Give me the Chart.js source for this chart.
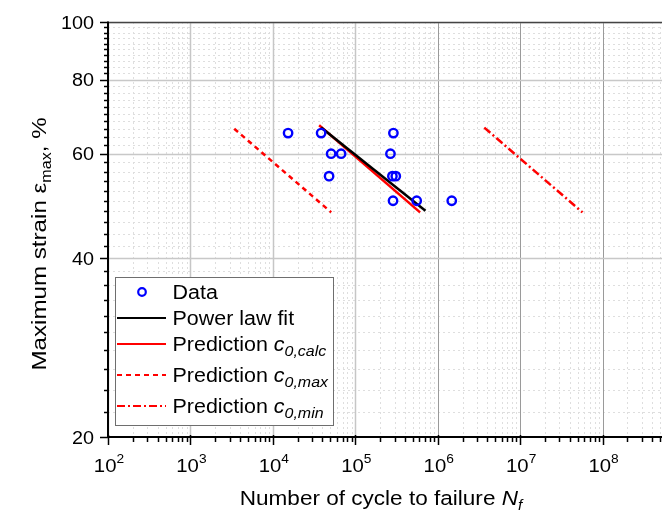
<!DOCTYPE html>
<html>
<head>
<meta charset="utf-8">
<script src="https://cdn.jsdelivr.net/npm/chart.js@4.4.1/dist/chart.umd.min.js"></script>
<style>
  html, body { margin: 0; padding: 0; background: #fff; overflow: hidden; }
  canvas { display: block; }
</style>
</head>
<body>
<canvas id="fatigueChart" width="700" height="513"></canvas>
<script>
// test results: cycles to failure vs. max strain (%)
const cyclesData = [15300, 38500, 290000, 50900, 67300, 267000, 48100, 282000, 310000, 287000, 556000, 1480000];
const strainData = [65, 65, 65, 60, 60, 60, 55, 55, 55, 50, 50, 50];

// straight lines in log-log, start and end point
const fitCycles = [38500, 710000];
const fitStrain = [66.4, 48.1];
const calcCycles = [36400, 611000];
const calcStrain = [67.0, 47.8];
const maxCycles = [3400, 51000];
const maxStrain = [66.1, 47.8];
const minCycles = [3670000, 57000000];
const minStrain = [66.4, 47.8];

const xExponents = [2, 3, 4, 5, 6, 7, 8];
const yTickValues = [20, 40, 60, 80, 100];

const STRETCH = 1.1;

function toPoints(xs, ys) {
    return xs.map((x, i) => ({ x: x, y: ys[i] }));
}

function fontStr(size, italic) {
    return (italic ? 'italic ' : '') + size + 'px "Liberation Sans", Arial, sans-serif';
}

// draws a run of text pieces (sizes, italics, sub/superscripts) side by side
function drawParts(ctx, parts, x, y, align, stretch) {
    const s = stretch || STRETCH;
    let w = 0;
    parts.forEach(p => { ctx.font = fontStr(p.size, p.italic); w += ctx.measureText(p.text).width; });
    w *= s;
    const start = align === 'center' ? x - w / 2 : (align === 'right' ? x - w : x);
    ctx.save();
    ctx.translate(start, y);
    ctx.scale(s, 1);
    ctx.textBaseline = 'alphabetic';
    ctx.textAlign = 'left';
    let cx = 0;
    parts.forEach(p => {
        ctx.font = fontStr(p.size, p.italic);
        ctx.fillText(p.text, cx, p.dy || 0);
        cx += ctx.measureText(p.text).width;
    });
    ctx.restore();
    return w;
}

function hLine(ctx, x1, x2, y) {
    ctx.beginPath(); ctx.moveTo(x1, y); ctx.lineTo(x2, y); ctx.stroke();
}
function vLine(ctx, x, y1, y2) {
    ctx.beginPath(); ctx.moveTo(x, y1); ctx.lineTo(x, y2); ctx.stroke();
}

const gridPlugin = {
    id: 'logGrid',
    beforeDatasetsDraw(chart) {
        const { ctx, chartArea: a, scales: { x, y } } = chart;
        ctx.save();
        ctx.beginPath();
        ctx.rect(a.left, a.top, a.right - a.left, a.bottom - a.top);
        ctx.clip();

        // minor grid, dashed
        ctx.setLineDash([2, 3]);
        ctx.strokeStyle = '#dedede';
        ctx.lineWidth = 1;
        xExponents.concat([9]).forEach(e => {
            for (let m = 2; m <= 9; m++) {
                const px = Math.round(x.getPixelForValue(m * Math.pow(10, e))) + 0.5;
                vLine(ctx, px, a.top, a.bottom);
            }
        });
        for (let v = 22; v < 100; v += 2) {
            if (yTickValues.includes(v)) continue;
            const py = Math.round(y.getPixelForValue(v)) + 0.5;
            hLine(ctx, a.left, a.right, py);
        }

        // major grid
        ctx.setLineDash([]);
        xExponents.forEach(e => {
            ctx.strokeStyle = e >= 6 ? '#9a9a9a' : '#c6c6c6';
            ctx.lineWidth = e >= 6 ? 1 : 1.5;
            const px = Math.round(x.getPixelForValue(Math.pow(10, e))) + 0.5;
            vLine(ctx, px, a.top, a.bottom);
        });
        ctx.strokeStyle = '#c8c8c8';
        ctx.lineWidth = 1.5;
        yTickValues.forEach(v => {
            const py = Math.round(y.getPixelForValue(v)) + 0.5;
            hLine(ctx, a.left, a.right, py);
        });
        ctx.restore();
    }
};

const axesPlugin = {
    id: 'axesAndLegend',
    afterDatasetsDraw(chart) {
        const { ctx, chartArea: a, scales: { x, y } } = chart;
        ctx.save();

        // frame
        ctx.strokeStyle = '#444';
        ctx.lineWidth = 1.5;
        hLine(ctx, a.left, a.right, a.top + 0.5);
        ctx.strokeStyle = '#000';
        ctx.lineWidth = 2;
        vLine(ctx, a.left, a.top - 0.5, a.bottom + 1);
        hLine(ctx, a.left - 1, a.right, a.bottom);

        // y ticks
        ctx.lineWidth = 1.5;
        for (let v = 20; v <= 100; v += 2) {
            const py = Math.round(y.getPixelForValue(v)) + 0.5;
            const len = yTickValues.includes(v) ? 8 : 4;
            hLine(ctx, a.left - len, a.left, py);
        }
        // x ticks
        xExponents.concat([9]).forEach(e => {
            const major = Math.pow(10, e);
            let px = Math.round(x.getPixelForValue(major)) + 0.5;
            vLine(ctx, px, a.bottom - 2, a.bottom + 8);
            for (let m = 2; m <= 9; m++) {
                px = Math.round(x.getPixelForValue(m * major)) + 0.5;
                vLine(ctx, px, a.bottom - 1, a.bottom + 5);
            }
        });

        // tick labels
        ctx.fillStyle = '#000';
        yTickValues.forEach(v => {
            const py = y.getPixelForValue(v);
            drawParts(ctx, [{ text: String(v), size: 18 }], a.left - 14, py + 6.5, 'right');
        });
        xExponents.forEach(e => {
            const px = x.getPixelForValue(Math.pow(10, e));
            drawParts(ctx, [{ text: '10', size: 18.5 }, { text: String(e), size: 12.5, dy: -9 }], px + 1, a.bottom + 35, 'center');
        });

        // axis titles
        drawParts(ctx, [
            { text: 'Number of cycle to failure ', size: 20.5 },
            { text: 'N', size: 20.5, italic: true },
            { text: 'f', size: 14, italic: true, dy: 5 }
        ], 381, 505, 'center');

        ctx.save();
        ctx.translate(46, a.top + 222);
        ctx.rotate(-Math.PI / 2);
        drawParts(ctx, [
            { text: 'Maximum strain \u03b5', size: 21 },
            { text: 'max', size: 14, dy: 5 },
            { text: ', %', size: 21 }
        ], 0, 0, 'center', 1.15);
        ctx.restore();

        // legend
        const datasets = chart.data.datasets;
        const bx = 115, by = 277;
        let base = 299;
        const rows = [];
        datasets.forEach(ds => {
            rows.push({ ds: ds, base: base });
            base += 26 + (ds.sub ? 5 : 0);
        });
        const labelParts = ds => {
            const p = [{ text: ds.label, size: 19.5 }];
            if (ds.sub) {
                p[0].text += ' ';
                p.push({ text: 'c', size: 19.5, italic: true });
                p.push({ text: ds.sub, size: 14.5, italic: true, dy: 5 });
            }
            return p;
        };
        let maxW = 0;
        rows.forEach(r => {
            let w = 0;
            labelParts(r.ds).forEach(p => { ctx.font = fontStr(p.size, p.italic); w += ctx.measureText(p.text).width; });
            maxW = Math.max(maxW, w * STRETCH);
        });
        const textX = 172.5;
        const bw = textX + maxW + 5 - bx;
        const bh = 425 - by;
        ctx.fillStyle = '#fff';
        ctx.fillRect(bx, by, bw, bh);
        ctx.strokeStyle = '#6e6e6e';
        ctx.lineWidth = 1;
        ctx.strokeRect(bx + 0.5, by + 0.5, bw, bh);

        rows.forEach(r => {
            const ds = r.ds;
            const my = r.base - 7;
            ctx.strokeStyle = ds.borderColor;
            if (!ds.showLine) {
                ctx.lineWidth = 2.2;
                ctx.beginPath();
                ctx.arc(142, my, 3.8, 0, Math.PI * 2);
                ctx.stroke();
            } else {
                ctx.lineWidth = 2.2;
                ctx.setLineDash(ds.borderDash || []);
                hLine(ctx, 117, 166, my);
                ctx.setLineDash([]);
            }
            ctx.fillStyle = '#000';
            drawParts(ctx, labelParts(ds), textX, r.base, 'left');
        });

        ctx.restore();
    }
};

const ctx = document.getElementById('fatigueChart').getContext('2d');
new Chart(ctx, {
    type: 'scatter',
    data: {
        datasets: [{
            label: 'Data',
            data: toPoints(cyclesData, strainData),
            showLine: false,
            pointStyle: 'circle',
            pointRadius: 4.2,
            pointBorderWidth: 2.4,
            borderColor: '#0000ff',
            backgroundColor: 'rgba(0,0,0,0)'
        }, {
            label: 'Power law fit',
            data: toPoints(fitCycles, fitStrain),
            showLine: true,
            pointRadius: 0,
            borderWidth: 2.5,
            borderColor: '#000000'
        }, {
            label: 'Prediction',
            sub: '0,calc',
            data: toPoints(calcCycles, calcStrain),
            showLine: true,
            pointRadius: 0,
            borderWidth: 2.5,
            borderColor: '#ff0000'
        }, {
            label: 'Prediction',
            sub: '0,max',
            data: toPoints(maxCycles, maxStrain),
            showLine: true,
            pointRadius: 0,
            borderWidth: 2.5,
            borderDash: [5, 4],
            borderColor: '#ff0000'
        }, {
            label: 'Prediction',
            sub: '0,min',
            data: toPoints(minCycles, minStrain),
            showLine: true,
            pointRadius: 0,
            borderWidth: 2.5,
            borderDash: [8, 3, 2, 3],
            borderColor: '#ff0000'
        }]
    },
    options: {
        responsive: false,
        animation: false,
        devicePixelRatio: 1,
        layout: { padding: { left: 108, top: 22, right: 15, bottom: 76 } },
        plugins: {
            legend: { display: false },
            tooltip: { enabled: false }
        },
        scales: {
            x: { type: 'logarithmic', min: 100, max: 1e9, display: false },
            y: { type: 'logarithmic', min: 20, max: 100, display: false }
        }
    },
    plugins: [gridPlugin, axesPlugin]
});
</script>
</body>
</html>
